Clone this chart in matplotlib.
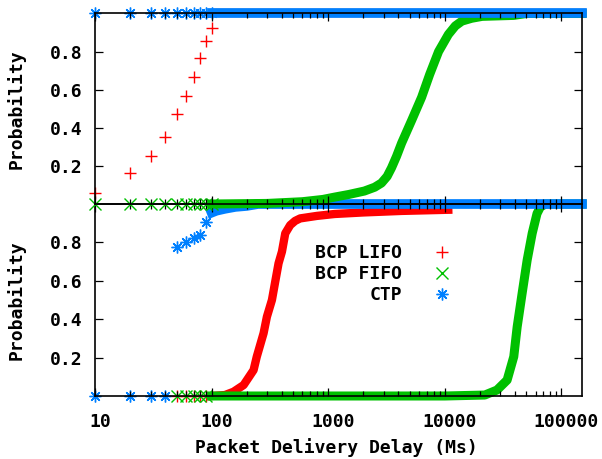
import matplotlib
matplotlib.use("Agg")
import matplotlib.pyplot as plt
from matplotlib.ticker import LogLocator, FixedLocator, NullFormatter
from matplotlib.transforms import ScaledTranslation

# ---- data ----
# delays sampled every 10 ms: the first points show up as single markers
early_x = [10, 20, 30, 40, 50, 60, 70, 80, 90, 100]
early_x_bcp = [50, 60, 70, 80, 90]

# top panel
top_lifo_early = [0.056, 0.163, 0.25, 0.35, 0.475, 0.568, 0.668, 0.764, 0.858, 0.923]
top_fifo_early = [0, 0, 0, 0, 0, 0, 0, 0, 0, 0]
top_ctp_early = [1, 1, 1, 1, 1, 1, 1, 1, 1, 1]

top_lifo_x = [110, 150000]
top_lifo_p = [1.0, 1.0]
top_fifo_x = [100, 300, 600, 900, 1130, 1500, 2040, 2500, 2860, 3200, 3490, 3850,
              4260, 5200, 6320, 7410, 8830, 10720, 12300, 14000, 17000, 20900,
              38900, 50000, 150000]
top_fifo_p = [0.0, 0.003, 0.012, 0.024, 0.036, 0.05, 0.068, 0.088, 0.11, 0.145,
              0.19, 0.25, 0.32, 0.44, 0.56, 0.68, 0.80, 0.89, 0.935, 0.96, 0.975,
              0.985, 0.99, 1.0, 1.0]
top_ctp_x = [100, 150000]
top_ctp_p = [1.0, 1.0]

# bottom panel
bot_lifo_early = [0, 0, 0, 0, 0]
bot_fifo_early = [0, 0, 0, 0, 0]
bot_ctp_early = [0, 0, 0, 0, 0.778, 0.804, 0.821, 0.839, 0.908]

bot_lifo_x = [100, 130, 154, 188, 229, 244, 279, 298, 329, 351, 375, 401, 428,
              472, 520, 575, 800, 1135, 2000, 4260, 10700]
bot_lifo_p = [0.0, 0.005, 0.022, 0.057, 0.135, 0.205, 0.327, 0.413, 0.5, 0.595,
              0.691, 0.752, 0.847, 0.89, 0.912, 0.925, 0.938, 0.948, 0.956, 0.964, 0.97]
bot_fifo_x = [100, 1000, 10000, 22000, 28000, 34200, 39000, 41700, 46000, 50800,
              56100, 61700, 66000, 73000, 150000]
bot_fifo_p = [0.0, 0.0, 0.0, 0.005, 0.031, 0.083, 0.205, 0.36, 0.535, 0.708,
              0.847, 0.95, 0.985, 1.0, 1.0]
bot_ctp_x = [100, 110, 130, 160, 200, 250, 150000]
bot_ctp_p = [0.955, 0.965, 0.975, 0.985, 0.99, 1.0, 1.0]

labels = ["BCP LIFO", "BCP FIFO", "CTP"]
colors = ["#ff0000", "#00c000", "#0080ff"]
markers = ["+", "x", (8, 2, 0)]
band_widths = [6.0, 6.5, 7.0]

y_ticks = [0.2, 0.4, 0.6, 0.8]

plt.rcParams["font.family"] = ["DejaVu Sans Mono", "DejaVu Sans"]
plt.rcParams["font.weight"] = "bold"
FS = 13

fig = plt.figure(figsize=(6.02, 4.59), dpi=100)
fig.patch.set_facecolor("white")

W, H = 602, 459
left, right = 95, 582
ax_bot = fig.add_axes([left / W, 1 - 396 / H, (right - left) / W, (396 - 204) / H])
ax_top = fig.add_axes([left / W, 1 - 204 / H, (right - left) / W, (204 - 13.5) / H])


def draw_series(ax, ex, ey, dx, dy, i, with_label):
    ax.plot(ex, ey, linestyle="none", marker=markers[i], color=colors[i],
            markersize=8.5, markeredgewidth=1.0, clip_on=False,
            label=labels[i] if with_label else None)
    ax.plot(dx, dy, color=colors[i], linewidth=band_widths[i],
            solid_capstyle="projecting", solid_joinstyle="round", clip_on=False)


# bottom panel first, top panel is drawn over it (as in the original multiplot)
draw_series(ax_bot, early_x_bcp, bot_lifo_early, bot_lifo_x, bot_lifo_p, 0, True)
draw_series(ax_bot, early_x_bcp, bot_fifo_early, bot_fifo_x, bot_fifo_p, 1, True)
draw_series(ax_bot, early_x[:9], bot_ctp_early, bot_ctp_x, bot_ctp_p, 2, True)

draw_series(ax_top, early_x, top_lifo_early, top_lifo_x, top_lifo_p, 0, False)
draw_series(ax_top, early_x, top_fifo_early, top_fifo_x, top_fifo_p, 1, False)
draw_series(ax_top, early_x, top_ctp_early, top_ctp_x, top_ctp_p, 2, False)

for ax in (ax_top, ax_bot):
    ax.set_facecolor("none")
    ax.set_xscale("log")
    ax.set_xlim(10, 150000)
    ax.set_ylim(0, 1)
    ax.set_axisbelow(False)
    ax.yaxis.set_major_locator(FixedLocator(y_ticks))
    ax.set_yticklabels([f"{t:.1f}" for t in y_ticks])
    ax.xaxis.set_major_locator(LogLocator(base=10, numticks=10))
    ax.xaxis.set_minor_locator(LogLocator(base=10, subs=range(2, 10), numticks=20))
    ax.xaxis.set_minor_formatter(NullFormatter())
    ax.tick_params(which="both", direction="in", top=True, right=True,
                   labelsize=FS, width=0.9, color="black")
    ax.tick_params(which="major", length=6)
    ax.tick_params(which="minor", length=3.5)
    ax.tick_params(axis="y", pad=9)
    for s in ax.spines.values():
        s.set_linewidth(1.2)
        s.set_color("black")
    ax.set_ylabel("Probability", fontsize=FS, fontweight="bold")
    ax.yaxis.set_label_coords(-0.142, 0.5)

ax_top.tick_params(axis="x", labelbottom=False)
ax_bot.xaxis.set_major_formatter(plt.FuncFormatter(lambda v, _: f"{int(round(v))}"))
ax_bot.tick_params(axis="x", pad=12)
shift = ScaledTranslation(5 / 100, 0, fig.dpi_scale_trans)
for lab in ax_bot.get_xticklabels():
    lab.set_transform(lab.get_transform() + shift)

ax_bot.set_xlabel("Packet Delivery Delay (Ms)", fontsize=FS, fontweight="bold")
ax_bot.xaxis.set_label_coords(0.496, -0.219)

leg = ax_bot.legend(loc="upper right", bbox_to_anchor=(456 / W, 1 - 244 / H),
                    bbox_transform=fig.transFigure, markerfirst=False, frameon=False,
                    fontsize=FS, handlelength=1.5, handletextpad=1.5,
                    labelspacing=0.18, borderpad=0, borderaxespad=0)
for t in leg.get_texts():
    t.set_fontweight("bold")

fig.savefig("out.png", dpi=100)
